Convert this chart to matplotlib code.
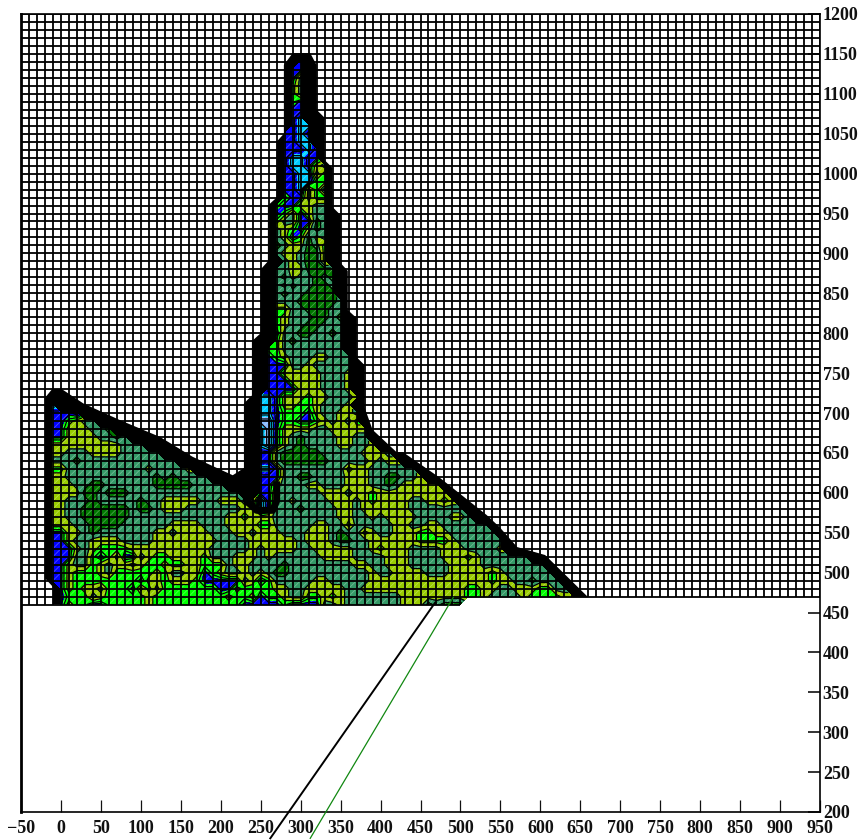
import numpy as np
import matplotlib
matplotlib.use('Agg')
import matplotlib.pyplot as plt
from matplotlib.collections import LineCollection

# Clases, nodos cada 10 unidades. '.' = sin dato
# 1 azul claro, 2 cian, 3 azul, 4 verde vivo, 5 oliva, 6 verde mar, 7 verde oscuro
colors = ['#88bbff', '#00ccff', '#0000ff', '#00ff00', '#99cc00', '#339966', '#007700']
levels = [0.5, 1.5, 2.5, 3.5, 4.5, 5.5, 6.5, 7.5]
line_levels = [1.25, 1.75, 2.25, 2.75, 3.25, 3.75, 4.5, 5.5, 6.5]

# x = -10..240, y = 710, 700, ... 460
left_rows = [
    "2", "3332", "334566", "33555667", "3355556676", "555555555666",
    "55666555566666", "6667666666666666", "446666666666566665", "55666666666667676666",
    "5556677666666777776666", "555577677766666666666666", "55666766666766555556655566",
    "55667777776776555666666655", "55667777776666666666665545", "55566777766666655556665555",
    "33556766666665565555666556", "33566555566665555555566665", "33356544445555555555666665",
    "33366434633654455554666555", "33566456556544544554446556", "33544456444445466553456656",
    "33544444444355455543333365", ".35455644436464444444335445",
    ".34446544444544444444454454", ".35443344444544444444444333",
]
# x = 250..390, y = 710 ... 470
mid_rows = [
    "223554456665", "2234443566556", "1134433456564", "21355556655555", "21356766665566",
    "213567666655665", "336777776666655", "3367777776666656", "223666666664556",
    "333667766665556", "335666556665556", "336666665556554", "136656666555654", "136667666655655",
    "556666666655665", "446666655664666", "555666555676645", "555556555677665", "655556655555665",
    "656666665555666", "666766666666556", "567766666666665", "346666655666665", "445566555556655",
    "344566445456666", "444445444566665",
]
mid_bottom = "333433336656666"
# x = 400..650, y = 650 ... 470 y la fila 460 hasta x = 500
right_rows = [
    "56", "655", "66666", "677665", "67655555", "555555555", "5555665545", "55556666666",
    "655556666556", "66556655666666", "665554455666666", "5555544445666666",
    "4555666655566665", "6555666655545666666", "655566666555566666666", "6655556665555545666666",
    "55555555555555455667666", "555555555554455665554466", "6665555555544566665444455", "66655576777",
]
# x = 250..370, y = 1140 ... 720
tower_rows = [
    ".....3", "....33", "....36", "....46", "....46", "....43", "....33", "....32", "....322",
    "...3323", "...3322", "...33323", "...32233", "...322356", "...332264", "...332244", "...332647",
    "...433644", "..4335566", "..3463566", "..4663376", "..6543576", "..6534756", "..7655764", "..6556774",
    "...656774", "..66557777", "..67566767", "..65766776", "..67667777", "..666777776", "..446677766",
    "..456667767", "..456677666", "..366776676", "..467666666", ".4466666666", ".34566655666",
    ".33366566666", ".33555556665", ".33355556665", ".33335556665", "2235554556665",
]

# Contorno exterior (banda negra)
outer_x = [-10, -10, -20, -20, -11, 1, 28, 74, 124, 165, 215, 229, 229, 239, 239, 250, 250, 259, 259,
           270, 270, 279, 279, 290, 312, 320, 320, 330, 330, 340, 340, 350, 350, 359, 359, 370, 370,
           380, 380, 390, 420, 428, 474, 533, 549, 571, 606, 660, 500, 500]
outer_y = [460, 482, 493, 719, 730, 730, 712, 691, 670, 645, 622, 631, 712, 722, 790, 800, 880, 890, 960,
           970, 1040, 1050, 1136, 1151, 1151, 1136, 1080, 1070, 1017, 1007, 958, 948, 888, 878, 829, 819, 770,
           760, 707, 679, 651, 651, 619, 572, 557, 532, 522, 469, 469, 460]
# Mancha negra alrededor del pozo
blob_x = [232, 232, 245, 265, 270, 270]
blob_y = [625, 590, 578, 578, 590, 610]
# Lineas diagonales
black_x = [468, 262]
black_y = [462, 167]
green_x = [491, 312]
green_y = [469, 167]

x_ticks = np.arange(-50, 951, 50)
y_ticks = np.arange(200, 1201, 50)

xs = np.arange(-10, 660, 10)
ys = np.arange(460, 1150, 10)
z = np.full((len(ys), len(xs)), np.nan)


def put_row(row, x0, y0):
    j = (y0 - ys[0]) // 10
    for k, c in enumerate(row):
        if c != '.':
            z[j, (x0 + 10 * k - xs[0]) // 10] = int(c)


for n, row in enumerate(left_rows):
    put_row(row, -10, 710 - 10 * n)
for n, row in enumerate(mid_rows):
    put_row(row, 250, 710 - 10 * n)
put_row(mid_bottom, 250, 460)
for n, row in enumerate(right_rows):
    put_row(row, 400, 650 - 10 * n)
for n, row in enumerate(tower_rows):
    put_row(row, 250, 1140 - 10 * n)

plt.rcParams['font.family'] = ['Liberation Serif', 'DejaVu Serif']
fig = plt.figure(figsize=(8.64, 8.4), dpi=100)
ax = fig.add_axes([21 / 864, 1 - 812 / 840, 799 / 864, 798 / 840])
ax.set_xlim(-50, 950)
ax.set_ylim(200, 1200)

ax.fill(outer_x, outer_y, color='black', lw=0, zorder=1)
ax.contourf(xs, ys, z, levels=levels, colors=colors, zorder=2)

# Diagonales claras de cada celda
segs = []
for j in range(len(ys) - 1):
    for i in range(len(xs) - 1):
        if not np.isnan(z[j:j + 2, i:i + 2]).any():
            segs.append([(xs[i], ys[j]), (xs[i + 1], ys[j + 1])])
ax.add_collection(LineCollection(segs, colors='white', linewidths=0.6, alpha=0.3, zorder=2.5))

ax.contour(xs, ys, z, levels=line_levels, colors='black', linewidths=0.9, zorder=3)
ax.plot(blob_x, blob_y, color='black', lw=5, zorder=3)

# Malla
grid_x = np.arange(-50, 951, 10)
grid_y = np.arange(470, 1201, 10)
ax.vlines(grid_x[grid_x <= 500], 460, 1200, color='black', lw=1.3, zorder=4)
ax.vlines(grid_x[grid_x > 500], 470, 1200, color='black', lw=1.3, zorder=4)
ax.hlines(grid_y, -50, 950, color='black', lw=1.3, zorder=4)
ax.hlines(460, -50, 500, color='black', lw=1.3, zorder=4)

ax.plot(black_x, black_y, color='black', lw=1.4, clip_on=False, zorder=5)
ax.plot(green_x, green_y, color='#118811', lw=0.9, clip_on=False, zorder=5)

ax.set_xticks(x_ticks)
ax.set_yticks(y_ticks)
ax.yaxis.tick_right()
ax.tick_params(axis='x', direction='in', length=8.6, width=0.9, pad=5.5, labelsize=13, colors='#111111')
ax.tick_params(axis='y', direction='in', length=8.6, width=1.2, pad=2, labelsize=13, colors='#111111')
for lab in ax.get_xticklabels() + ax.get_yticklabels():
    lab.set_fontweight('bold')
for side, w in [('left', 2.0), ('bottom', 1.2), ('top', 1.2), ('right', 1.2)]:
    ax.spines[side].set_linewidth(w)

fig.savefig('out.png', dpi=100)
